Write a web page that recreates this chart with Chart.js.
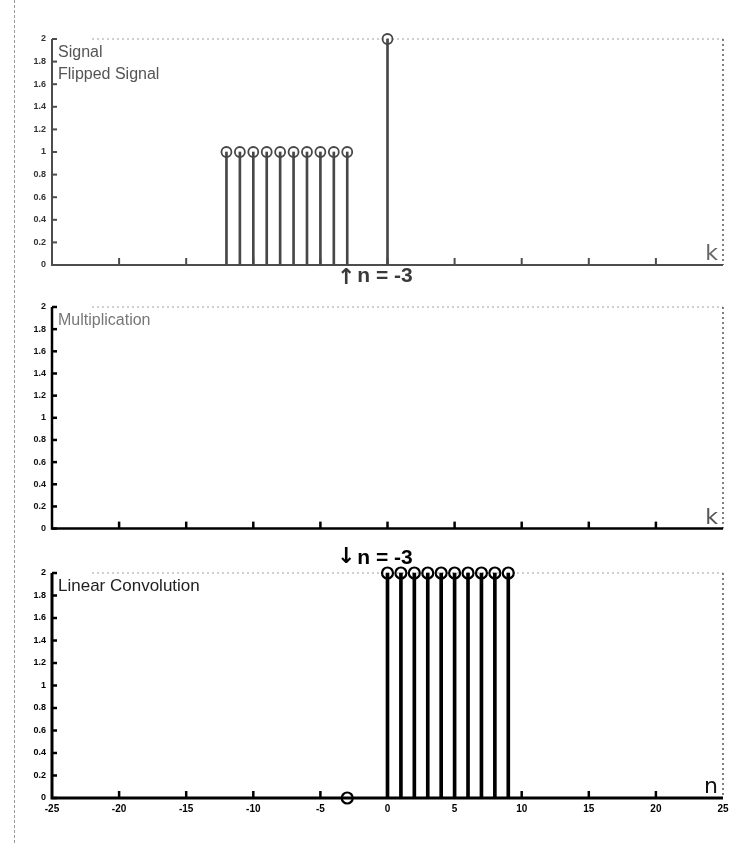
<!DOCTYPE html>
<html>
<head>
<meta charset="utf-8">
<script src="https://cdn.jsdelivr.net/npm/chart.js@4.4.1/dist/chart.umd.min.js"></script>
<style>
  html, body { margin: 0; padding: 0; background: #fff; }
  #page { position: relative; width: 747px; height: 843px; overflow: hidden; background: #fff; }
  #page canvas { position: absolute; left: 0; }
  #edge { position: absolute; left: 14px; top: 0; width: 0; height: 843px; border-left: 1px dashed #9a9a9a; }
</style>
</head>
<body>
<div id="page">
  <div id="edge"></div>
  <canvas id="sigPanel"></canvas>
  <canvas id="mulPanel"></canvas>
  <canvas id="convPanel"></canvas>
</div>
<script>
// ---- data ----
const kMin = -25;
const kMax = 25;
const kStep = 5;
const yMax = 2;
const yStep = 0.2;

const shiftN = -3;                 // current shift n of the flipped signal

const signalK = [0];
const signalVal = [2];

const flippedK = [-12, -11, -10, -9, -8, -7, -6, -5, -4, -3];
const flippedVal = [1, 1, 1, 1, 1, 1, 1, 1, 1, 1];

const productK = [];
const productVal = [];

const convN = [-3, 0, 1, 2, 3, 4, 5, 6, 7, 8, 9];
const convVal = [0, 2, 2, 2, 2, 2, 2, 2, 2, 2, 2];

// ---- helpers ----
const pts = (xs, ys) => xs.map((x, i) => ({ x: x, y: ys[i] }));

function stemSets(xs, ys, ink, stemW, radius, ringW) {
  const data = pts(xs, ys);
  return [
    { type: 'bar', data: data, backgroundColor: ink, borderWidth: 0,
      barThickness: stemW, grouped: false, order: 2, clip: false },
    { type: 'scatter', data: data, showLine: false, pointRadius: radius,
      pointBorderWidth: ringW, pointBorderColor: ink,
      pointBackgroundColor: 'rgba(0,0,0,0)', order: 1, clip: false }
  ];
}

// axes, inward ticks, frame, captions
const panelDecor = {
  id: 'panelDecor',
  beforeDatasetsDraw(chart, args, o) {
    const { ctx, chartArea: a, scales: { x, y } } = chart;
    ctx.save();
    // dotted box top and right
    ctx.setLineDash([2, 3]);
    ctx.lineWidth = 1;
    ctx.strokeStyle = '#a0a0a0';
    ctx.beginPath(); ctx.moveTo(a.left + 40, a.top); ctx.lineTo(a.right, a.top); ctx.stroke();
    ctx.strokeStyle = '#555';
    ctx.lineWidth = 1.5;
    ctx.beginPath(); ctx.moveTo(a.right, a.top); ctx.lineTo(a.right, a.bottom); ctx.stroke();
    ctx.setLineDash([]);

    // main axes
    ctx.strokeStyle = o.ink;
    ctx.lineWidth = o.axisW;
    ctx.beginPath();
    ctx.moveTo(a.left, a.top); ctx.lineTo(a.left, a.bottom); ctx.lineTo(a.right, a.bottom);
    ctx.stroke();

    // inward y ticks
    ctx.lineWidth = o.tickW;
    y.ticks.forEach(t => {
      const py = y.getPixelForValue(t.value);
      ctx.beginPath(); ctx.moveTo(a.left, py); ctx.lineTo(a.left + 5, py); ctx.stroke();
    });
    // inward x ticks
    x.ticks.forEach(t => {
      if (t.value <= kMin || t.value >= kMax) return;
      const px = x.getPixelForValue(t.value);
      ctx.beginPath(); ctx.moveTo(px, a.bottom); ctx.lineTo(px, a.bottom - 7); ctx.stroke();
    });
    ctx.restore();
  },
  afterDatasetsDraw(chart, args, o) {
    const { ctx, chartArea: a, scales: { x } } = chart;
    ctx.save();
    // captions in the upper-left corner
    ctx.textBaseline = 'alphabetic';
    ctx.textAlign = 'left';
    ctx.font = o.captionSize + 'px "Liberation Sans", Arial, sans-serif';
    ctx.fillStyle = o.captionColor;
    o.captions.forEach((c, i) => ctx.fillText(c, a.left + 6, a.top + 18 + i * 22));

    // axis letter in the lower-right corner
    ctx.font = '22px "DejaVu Sans", sans-serif';
    ctx.textAlign = 'right';
    ctx.fillStyle = o.letterColor;
    ctx.fillText(o.letter, a.right - 5, a.bottom - 5);

    // shift marker
    if (o.marker) {
      const px = x.getPixelForValue(shiftN);
      ctx.fillStyle = o.marker.color;
      ctx.textBaseline = 'middle';
      ctx.textAlign = 'center';
      ctx.font = 'bold 22px "DejaVu Sans", sans-serif';
      ctx.fillText(o.marker.arrow, px - 1, o.marker.y + o.marker.arrowDy);
      ctx.textAlign = 'left';
      ctx.font = 'bold 21px "Liberation Sans", Arial, sans-serif';
      ctx.fillText('n = ' + shiftN, px + 10, o.marker.y + 1);
    }
    ctx.restore();
  }
};

function makePanel(id, cfg) {
  const cv = document.getElementById(id);
  cv.style.top = cfg.canvasTop + 'px';
  cv.width = 747; cv.height = cfg.canvasH;
  cv.style.width = '747px'; cv.style.height = cfg.canvasH + 'px';
  const tickFont = { family: '"Liberation Sans", Arial, sans-serif', size: 9, weight: 'bold' };
  return new Chart(cv, {
    type: 'bar',
    data: { datasets: cfg.datasets },
    options: {
      responsive: false,
      animation: false,
      events: [],
      layout: { padding: { left: 0, right: 24, top: cfg.padTop, bottom: 0 } },
      plugins: { legend: { display: false }, tooltip: { enabled: false }, panelDecor: cfg.decor },
      scales: {
        x: {
          type: 'linear', min: kMin, max: kMax, offset: false,
          grid: { display: false, drawTicks: false }, border: { display: false },
          ticks: { display: cfg.xLabels, stepSize: kStep, padding: 5, color: cfg.labelInk,
                   font: { family: tickFont.family, size: 10, weight: 'bold' }, maxRotation: 0 },
          afterFit(s) { s.height = cfg.xH; }
        },
        y: {
          min: 0, max: yMax,
          grid: { display: false, drawTicks: false }, border: { display: false },
          ticks: { stepSize: yStep, padding: 6, color: cfg.labelInk, font: tickFont,
                   callback: v => String(Math.round(v * 10) / 10) },
          afterFit(s) { s.width = 52; }
        }
      }
    },
    plugins: [panelDecor]
  });
}

const greyInk = '#474747';
const darkInk = '#000000';

makePanel('sigPanel', {
  canvasTop: 0, canvasH: 300, padTop: 39, xH: 35, xLabels: false, labelInk: '#333',
  datasets: [
    ...stemSets(signalK, signalVal, greyInk, 2, 5, 1.8),
    ...stemSets(flippedK, flippedVal, greyInk, 2, 5, 1.8)
  ],
  decor: { ink: '#4d4d4d', axisW: 2, tickW: 2, captions: ['Signal', 'Flipped Signal'],
           captionSize: 16, captionColor: '#555', letter: 'k', letterColor: '#666',
           marker: { arrow: '\u2191', y: 275, arrowDy: 3, color: '#3a3a3a' } }
});

makePanel('mulPanel', {
  canvasTop: 290, canvasH: 250, padTop: 17, xH: 11, xLabels: false, labelInk: '#111',
  datasets: [
    ...stemSets(productK, productVal, darkInk, 2, 5, 1.8)
  ],
  decor: { ink: '#000', axisW: 2.5, tickW: 2.5, captions: ['Multiplication'],
           captionSize: 16, captionColor: '#777', letter: 'k', letterColor: '#555', marker: null }
});

makePanel('convPanel', {
  canvasTop: 540, canvasH: 303, padTop: 33, xH: 45, xLabels: true, labelInk: '#000',
  datasets: [
    ...stemSets(convN, convVal, darkInk, 3, 5.5, 2.2)
  ],
  decor: { ink: '#000', axisW: 3, tickW: 2.5, captions: ['Linear Convolution'],
           captionSize: 17, captionColor: '#222', letter: 'n', letterColor: '#111',
           marker: { arrow: '\u2193', y: 17, arrowDy: 0, color: '#000' } }
});
</script>
</body>
</html>
